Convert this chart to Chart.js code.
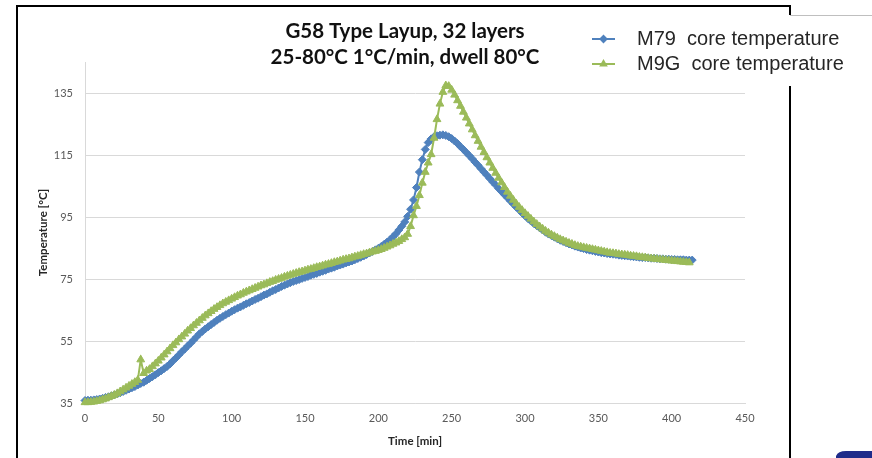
<!DOCTYPE html>
<html>
<head>
<meta charset="utf-8">
<script src="https://cdn.jsdelivr.net/npm/chart.js@4.4.1/dist/chart.umd.min.js"></script>
<style>
  html, body { margin: 0; padding: 0; background: #ffffff; }
  #wrap { position: relative; width: 872px; height: 458px; overflow: hidden; }
  canvas { display: block; }
</style>
</head>
<body>
<div id="wrap"><canvas id="c" width="872" height="458"></canvas></div>
<script>
const chartTitle = ['G58 Type Layup, 32 layers', '25-80°C 1°C/min, dwell 80°C'];
const seriesNames = ['M79  core temperature', 'M9G  core temperature'];
const xTitle = 'Time [min]';
const yTitle = 'Temperature [°C]';
const yTickValues = [35, 55, 75, 95, 115, 135];
const xTickValues = [0, 50, 100, 150, 200, 250, 300, 350, 400, 450];

// sample times in minutes (every 2 min)
const times = [
  0,2,4,6,8,10,12,14,16,18,
  20,22,24,26,28,30,32,34,36,38,
  40,42,44,46,48,50,52,54,56,58,
  60,62,64,66,68,70,72,74,76,78,
  80,82,84,86,88,90,92,94,96,98,
  100,102,104,106,108,110,112,114,116,118,
  120,122,124,126,128,130,132,134,136,138,
  140,142,144,146,148,150,152,154,156,158,
  160,162,164,166,168,170,172,174,176,178,
  180,182,184,186,188,190,192,194,196,198,
  200,202,204,206,208,210,212,214,216,218,
  220,222,224,226,228,230,232,234,236,238,
  240,242,244,246,248,250,252,254,256,258,
  260,262,264,266,268,270,272,274,276,278,
  280,282,284,286,288,290,292,294,296,298,
  300,302,304,306,308,310,312,314,316,318,
  320,322,324,326,328,330,332,334,336,338,
  340,342,344,346,348,350,352,354,356,358,
  360,362,364,366,368,370,372,374,376,378,
  380,382,384,386,388,390,392,394,396,398,
  400,402,404,406,408,410,412,414
];

const m79 = [
  35.8,35.9,35.9,36.0,36.1,36.3,36.5,36.8,37.0,37.3,
  37.6,38.0,38.3,38.7,39.1,39.5,39.9,40.3,40.8,41.3,
  41.7,42.3,42.9,43.5,44.1,44.8,45.4,46.1,46.8,47.6,
  48.6,49.5,50.5,51.5,52.4,53.4,54.3,55.3,56.3,57.3,
  58.1,58.9,59.6,60.3,61.0,61.7,62.3,62.9,63.5,64.0,
  64.6,65.1,65.6,66.0,66.5,67.0,67.4,67.9,68.4,68.8,
  69.3,69.8,70.2,70.7,71.2,71.6,72.1,72.6,73.0,73.4,
  73.8,74.2,74.5,74.8,75.2,75.5,75.8,76.2,76.5,76.8,
  77.2,77.5,77.8,78.2,78.5,78.8,79.2,79.5,79.8,80.2,
  80.5,80.8,81.2,81.6,82.0,82.4,82.9,83.4,83.9,84.4,
  84.9,85.5,86.2,86.9,87.7,88.6,89.6,90.8,92.0,93.4,
  95.2,97.5,100.5,104.5,109.5,113.5,116.8,119.0,120.2,120.9,
  121.2,121.4,121.5,121.3,120.9,120.3,119.5,118.7,117.7,116.8,
  115.8,114.8,113.8,112.7,111.7,110.6,109.5,108.5,107.4,106.3,
  105.3,104.2,103.2,102.2,101.2,100.2,99.2,98.2,97.3,96.3,
  95.4,94.5,93.7,92.9,92.2,91.5,90.8,90.1,89.5,89.0,
  88.5,88.0,87.5,87.1,86.7,86.3,86.0,85.6,85.3,85.0,
  84.8,84.5,84.3,84.1,83.9,83.7,83.5,83.4,83.2,83.1,
  83.0,82.9,82.7,82.6,82.5,82.4,82.3,82.2,82.1,82.0,
  81.9,81.9,81.8,81.7,81.7,81.6,81.5,81.5,81.4,81.4,
  81.3,81.3,81.2,81.2,81.2,81.1,81.1,81.1
];

const m9g = [
  35.2,35.2,35.3,35.4,35.6,35.8,36.1,36.4,36.8,37.2,
  37.6,38.1,38.7,39.3,39.9,40.5,41.1,41.7,42.4,49.0,
  44.6,45.4,45.9,46.8,47.7,48.6,49.6,50.6,51.6,52.6,
  53.6,54.5,55.5,56.4,57.3,58.3,59.1,60.0,60.8,61.6,
  62.4,63.2,63.9,64.6,65.3,65.9,66.5,67.1,67.6,68.1,
  68.6,69.1,69.6,70.0,70.5,70.9,71.3,71.7,72.1,72.5,
  72.9,73.2,73.6,74.0,74.3,74.7,75.0,75.3,75.7,76.0,
  76.3,76.6,76.9,77.2,77.4,77.7,78.0,78.2,78.5,78.8,
  79.0,79.3,79.6,79.8,80.1,80.4,80.6,80.9,81.2,81.4,
  81.6,81.9,82.2,82.4,82.7,83.0,83.2,83.5,83.8,84.0,
  84.3,84.6,85.0,85.4,85.8,86.3,86.7,87.2,87.8,88.4,
  89.5,92.0,95.5,98.5,102.0,106.0,109.5,112.5,115.2,120.5,
  126.5,131.5,135.3,137.4,137.2,136.0,134.4,132.6,130.8,128.9,
  127.0,125.1,123.2,121.3,119.5,117.6,115.9,114.2,112.5,110.8,
  109.2,107.6,106.1,104.6,103.1,101.8,100.5,99.3,98.2,97.2,
  96.2,95.3,94.4,93.5,92.7,91.9,91.2,90.5,89.9,89.3,
  88.8,88.3,87.8,87.4,87.0,86.6,86.3,85.9,85.6,85.4,
  85.2,85.0,84.8,84.6,84.4,84.2,84.0,83.8,83.6,83.4,
  83.3,83.2,83.0,82.9,82.8,82.7,82.5,82.4,82.3,82.1,
  82.0,81.9,81.7,81.6,81.5,81.4,81.3,81.2,81.1,81.0,
  80.9,80.8,80.7,80.6,80.5,80.4,80.3,null
];

const BLUE = '#4F81BD';
const GREEN = '#9BBB59';
const TICK_FONT = { family: 'Lato, "Open Sans", sans-serif', size: 11 };
const TICK_COLOR = '#595959';
const GRID = '#D9D9D9';
const AXIS_TITLE_FONT = { family: 'Lato, "Open Sans", sans-serif', size: 11.5, weight: 'bold' };

const decorPlugin = {
  id: 'decor',
  afterDraw(chart) {
    const ctx = chart.ctx;
    ctx.save();
    // slide frame (black)
    ctx.strokeStyle = '#000000';
    ctx.lineWidth = 2;
    ctx.beginPath();
    ctx.moveTo(17, 460); ctx.lineTo(17, 6); ctx.lineTo(790, 6); ctx.lineTo(790, 15);
    ctx.moveTo(790, 86); ctx.lineTo(790, 460);
    ctx.stroke();
    // legend box top edge
    ctx.strokeStyle = '#BFBFBF';
    ctx.lineWidth = 1;
    ctx.beginPath();
    ctx.moveTo(790, 15.5); ctx.lineTo(872, 15.5);
    ctx.stroke();

    // title
    ctx.fillStyle = '#111111';
    ctx.font = 'bold 20.5px Lato, "Open Sans", sans-serif';
    ctx.textAlign = 'center';
    ctx.textBaseline = 'middle';
    ctx.fillText(chartTitle[0], 405, 31);
    ctx.fillText(chartTitle[1], 405, 57);

    // legend
    const rows = [
      { y: 39, color: BLUE, style: 'rectRot', name: seriesNames[0] },
      { y: 64, color: GREEN, style: 'triangle', name: seriesNames[1] }
    ];
    rows.forEach(r => {
      ctx.strokeStyle = r.color;
      ctx.fillStyle = r.color;
      ctx.lineWidth = 2;
      ctx.beginPath();
      ctx.moveTo(592, r.y); ctx.lineTo(615, r.y);
      ctx.stroke();
      Chart.helpers.drawPoint(ctx, { pointStyle: r.style, radius: 3, borderWidth: 1, rotation: 0 }, 603.5, r.y);
      ctx.fillStyle = '#262626';
      ctx.font = '20px "Liberation Sans", Arial, sans-serif';
      ctx.textAlign = 'left';
      ctx.textBaseline = 'middle';
      ctx.fillText(r.name, 637, r.y);
    });

    // corner logo fragment
    ctx.fillStyle = '#1F2C8A';
    ctx.beginPath();
    ctx.moveTo(836, 460); ctx.lineTo(836, 456);
    ctx.quadraticCurveTo(838, 451, 846, 451);
    ctx.lineTo(872, 451); ctx.lineTo(872, 460);
    ctx.closePath();
    ctx.fill();
    ctx.restore();
  }
};

new Chart(document.getElementById('c'), {
  type: 'line',
  data: {
    datasets: [
      {
        label: seriesNames[0],
        data: times.map((t, i) => ({ x: t, y: m79[i] })),
        borderColor: BLUE,
        backgroundColor: BLUE,
        borderWidth: 2,
        pointStyle: 'rectRot',
        pointRadius: 4,
        pointBorderWidth: 1,
        pointBackgroundColor: BLUE,
        pointBorderColor: BLUE,
        tension: 0,
        clip: false,
        order: 1
      },
      {
        label: seriesNames[1],
        data: times.map((t, i) => ({ x: t, y: m9g[i] })),
        borderColor: GREEN,
        backgroundColor: GREEN,
        borderWidth: 2,
        pointStyle: 'triangle',
        pointRadius: 4.5,
        pointBorderWidth: 1,
        pointBackgroundColor: GREEN,
        pointBorderColor: GREEN,
        tension: 0,
        clip: false,
        spanGaps: false,
        order: 0
      }
    ]
  },
  options: {
    responsive: false,
    animation: false,
    devicePixelRatio: 1,
    layout: { padding: { left: 30, top: 62, right: 127, bottom: 5 } },
    plugins: {
      legend: { display: false },
      title: { display: false },
      tooltip: { enabled: false }
    },
    scales: {
      x: {
        type: 'linear',
        min: 0,
        max: 450,
        afterBuildTicks: (s) => { s.ticks = xTickValues.map(v => ({ value: v })); },
        afterFit: (s) => { s.height = 50; },
        grid: { display: false, drawTicks: false },
        border: { display: true, color: GRID, width: 1 },
        ticks: { font: TICK_FONT, color: TICK_COLOR, padding: 9, maxRotation: 0 },
        title: {
          display: true,
          text: xTitle,
          font: AXIS_TITLE_FONT,
          color: '#262626',
          padding: { top: 0, bottom: 5 }
        }
      },
      y: {
        type: 'linear',
        min: 35,
        max: 145,
        afterBuildTicks: (s) => { s.ticks = yTickValues.map(v => ({ value: v })); },
        afterFit: (s) => { s.width = 55; },
        grid: { color: GRID, lineWidth: 1, drawTicks: false },
        border: { display: true, color: GRID, width: 1 },
        ticks: { font: TICK_FONT, color: TICK_COLOR, padding: 12 },
        title: {
          display: true,
          text: yTitle,
          font: AXIS_TITLE_FONT,
          color: '#262626',
          padding: { top: 6, bottom: 0 }
        }
      }
    }
  },
  plugins: [decorPlugin]
});
</script>
</body>
</html>
